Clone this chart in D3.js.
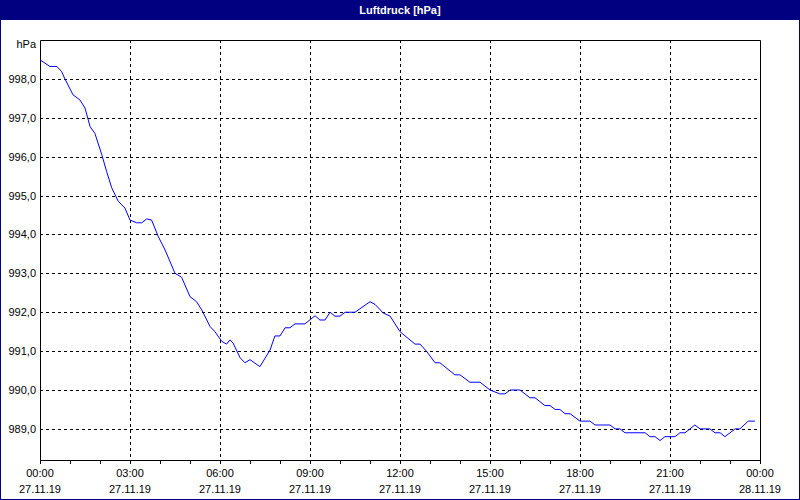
<!DOCTYPE html>
<html>
<head>
<meta charset="UTF-8">
<script src="https://cdn.jsdelivr.net/npm/d3@7"></script>
<style>
body{margin:0;background:#fff}
text{font-family:"Liberation Sans",Arial,sans-serif;font-size:11px}
</style>
</head>
<body>
<svg id="chart" width="800" height="500"></svg>
<script>
// hours since 27.11.19 00:00 and pressure in hPa
var hours=[0,0.33,0.56,0.72,0.83,1.1,1.33,1.5,1.67,1.83,2.06,2.22,2.39,2.61,2.83,3.0,3.22,3.39,3.56,3.72,3.94,4.17,
 4.5,4.72,5.0,5.22,5.39,5.67,5.83,6.06,6.22,6.33,6.44,6.67,6.83,7.0,7.33,7.67,7.83,8.0,8.17,8.33,8.5,8.83,9.17,9.33,9.5,9.67,9.83,10.0,10.17,10.5,11.0,11.17,11.44,11.67,12.0,
 12.5,12.67,12.89,13.17,13.33,13.83,14.0,14.33,14.67,15.0,15.33,15.5,15.67,16.0,16.33,16.5,16.83,17.0,17.17,17.33,17.5,17.67,18.0,18.33,18.5,19.0,19.17,19.33,19.5,20.17,20.33,20.5,20.67,20.83,21.17,21.33,21.5,21.83,22.0,22.33,22.5,22.67,22.83,23.17,23.33,23.61,23.83]
var pressure=[998.49,998.32,998.32,998.19,998.0,997.59,997.46,997.25,996.77,996.6,996.05,995.62,995.2,994.85,994.68,994.37,994.3,994.3,994.4,994.37,993.95,993.6,
 993.0,992.9,992.4,992.27,992.06,991.63,991.5,991.25,991.18,991.29,991.2,990.83,990.7,990.78,990.6,991.03,991.39,991.39,991.6,991.6,991.7,991.7,991.91,991.8,991.8,992.0,991.9,991.9,992.0,992.0,992.27,992.2,991.98,991.9,991.5,
 991.18,991.18,990.99,990.7,990.7,990.39,990.39,990.2,990.2,990.0,989.9,989.9,990.0,990.0,989.8,989.8,989.6,989.6,989.5,989.5,989.39,989.39,989.2,989.2,989.1,989.1,989.0,989.0,988.9,988.9,988.8,988.8,988.7,988.8,988.8,988.9,988.9,989.1,989.0,989.0,988.9,988.9,988.8,989.0,989.0,989.2,989.2]
var yTicks=[989,990,991,992,993,994,995,996,997,998]
var xTicks=[0,3,6,9,12,15,18,21,24]
var xLabels=["00:00","03:00","06:00","09:00","12:00","15:00","18:00","21:00","00:00"]
var dateLabels=["27.11.19","27.11.19","27.11.19","27.11.19","27.11.19","27.11.19","27.11.19","27.11.19","28.11.19"]

var svg=d3.select("#chart")
var pLeft=40,pRight=760,pTop=40,pBottom=460

// frame + title bar
svg.append("rect").attr("x",0.5).attr("y",0.5).attr("width",799).attr("height",499)
 .attr("fill","#fff").attr("stroke","#000080")
svg.append("rect").attr("x",0).attr("y",0).attr("width",800).attr("height",20).attr("fill","#000080")
svg.append("text").attr("x",400).attr("y",14).attr("text-anchor","middle")
 .attr("fill","#fff").attr("font-weight","bold").text("Luftdruck [hPa]")

var x=d3.scaleLinear().domain([0,24]).range([pLeft,pRight])
var y=d3.scaleLinear().domain([988.2,999.0]).range([pBottom,pTop])

// grid
svg.append("g").selectAll("line").data(yTicks).join("line")
 .attr("x1",pLeft).attr("x2",pRight).attr("y1",d=>Math.round(y(d))+0.5).attr("y2",d=>Math.round(y(d))+0.5)
 .attr("stroke","#000").attr("stroke-dasharray","3,3")
svg.append("g").selectAll("line").data(xTicks.slice(1,-1)).join("line")
 .attr("y1",pTop).attr("y2",pBottom).attr("x1",d=>Math.round(x(d))+0.5).attr("x2",d=>Math.round(x(d))+0.5)
 .attr("stroke","#000").attr("stroke-dasharray","3,3")

// plot border
svg.append("path").attr("d","M"+(pLeft+0.5)+","+(pTop+0.5)+"H"+(pRight+0.5)+"V"+(pBottom+0.5)+"H"+(pLeft+0.5)+"Z")
 .attr("fill","none").attr("stroke","#000")

// x axis ticks
svg.append("g").selectAll("line").data(d3.range(0,25)).join("line")
 .attr("x1",d=>Math.round(x(d))+0.5).attr("x2",d=>Math.round(x(d))+0.5)
 .attr("y1",pBottom).attr("y2",pBottom+4).attr("stroke","#000")
svg.append("g").selectAll("text").data(xTicks).join("text")
 .attr("x",d=>x(d)).attr("y",477).attr("text-anchor","middle").text((d,i)=>xLabels[i])
svg.append("g").selectAll("text").data(xTicks).join("text")
 .attr("x",d=>x(d)).attr("y",493).attr("text-anchor","middle").text((d,i)=>dateLabels[i])

// y labels
svg.append("g").selectAll("text").data(yTicks).join("text")
 .attr("x",36).attr("y",d=>y(d)+4).attr("text-anchor","end").text(d=>d.toFixed(1).replace(".",","))
svg.append("text").attr("x",36).attr("y",48).attr("text-anchor","end").text("hPa")

// line
var line=d3.line().x((d,i)=>x(hours[i])).y(d=>y(d))
svg.append("path").datum(pressure).attr("d",line)
 .attr("fill","none").attr("stroke","#0000ff").attr("stroke-width",1)
</script>
</body>
</html>
